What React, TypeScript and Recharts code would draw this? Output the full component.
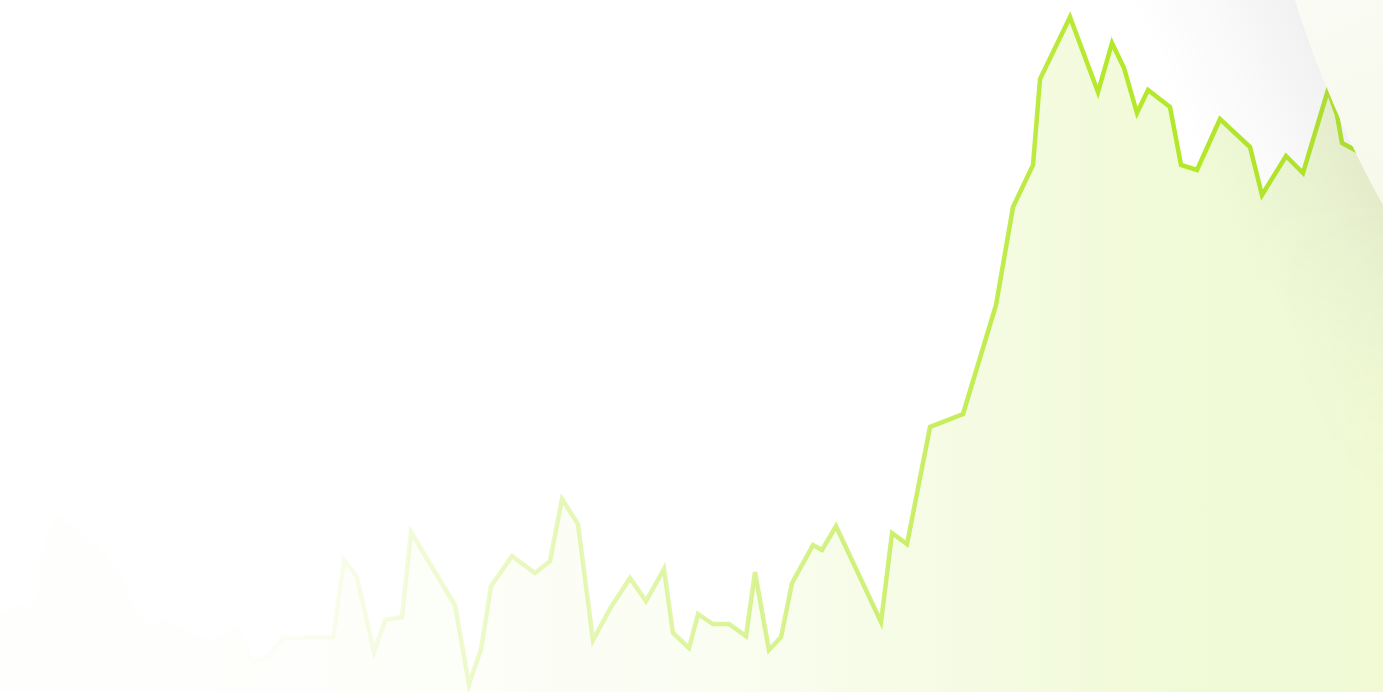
import { AreaChart, Area, XAxis, YAxis } from "recharts";

// x positions (time units) and values
const X = [
	0, 35, 45, 58, 75, 100, 120, 135, 150, 167, 180, 193, 215, 237, 252, 268,
	283, 333, 344, 357, 374, 385, 402, 411, 455, 469, 481, 491, 512, 535, 550,
	562, 578, 593, 611, 630, 646, 664, 673, 689, 698, 713, 729, 746, 755, 769,
	781, 792, 813, 822, 836, 881, 892, 907, 930, 963, 996, 1013, 1033, 1040,
	1070, 1098, 1112, 1124, 1137, 1148, 1170, 1181, 1197, 1220, 1250, 1262,
	1286, 1303, 1328, 1337, 1342, 1355, 1370, 1383,
];

const VALUES = [
	80, 92, 157, 177, 162, 144, 117, 82, 67, 72, 62, 55, 52, 65, 30, 37, 54,
	55, 132, 115, 40, 72, 75, 160, 87, 8, 43, 106, 136, 119, 131, 193, 168, 52,
	85, 114, 91, 123, 59, 44, 78, 68, 68, 56, 120, 42, 55, 109, 147, 142, 166,
	70, 159, 148, 265, 278, 387, 485, 527, 613, 675, 600, 649, 624, 579, 602,
	585, 527, 522, 573, 545, 497, 536, 519, 602, 577, 549, 542, 532, 522,
];

const data = X.map((x, i) => ({ x, value: VALUES[i] }));

const W = 1383;
const H = 692;

export default function App() {
	return (
		<div style={{ position: "relative", width: W, height: H, background: "#fff", overflow: "hidden" }}>
			<style>{"body{margin:0}"}</style>
			<AreaChart width={W} height={H} data={data} margin={{ top: 0, right: 0, bottom: 0, left: 0 }}>
				<defs>
					<linearGradient id="strokeGrad" x1="0" y1="0" x2="1" y2="0">
						<stop offset="0%" stopColor="#b4e82a" stopOpacity={0} />
						<stop offset="17%" stopColor="#b4e82a" stopOpacity={0.01} />
						<stop offset="24%" stopColor="#b4e82a" stopOpacity={0.08} />
						<stop offset="30%" stopColor="#b4e82a" stopOpacity={0.17} />
						<stop offset="36%" stopColor="#b4e82a" stopOpacity={0.26} />
						<stop offset="48%" stopColor="#b4e82a" stopOpacity={0.4} />
						<stop offset="62%" stopColor="#b4e82a" stopOpacity={0.6} />
						<stop offset="72%" stopColor="#b4e82a" stopOpacity={0.82} />
						<stop offset="80%" stopColor="#b4e82a" stopOpacity={1} />
						<stop offset="100%" stopColor="#b4e82a" stopOpacity={1} />
					</linearGradient>
					<linearGradient id="fillGrad" x1="0" y1="0" x2="1" y2="0">
						<stop offset="0%" stopColor="#e6f6b8" stopOpacity={0.03} />
						<stop offset="22%" stopColor="#e6f6b8" stopOpacity={0.05} />
						<stop offset="50%" stopColor="#e6f6b8" stopOpacity={0.18} />
						<stop offset="70%" stopColor="#e6f6b8" stopOpacity={0.4} />
						<stop offset="85%" stopColor="#e6f6b8" stopOpacity={0.55} />
						<stop offset="100%" stopColor="#e6f6b8" stopOpacity={0.6} />
					</linearGradient>
				</defs>
				<XAxis dataKey="x" type="number" domain={[0, W]} hide />
				<YAxis type="number" domain={[0, H]} hide />
				<Area
					type="linear"
					dataKey="value"
					stroke="url(#strokeGrad)"
					strokeWidth={4.5}
					fill="url(#fillGrad)"
					fillOpacity={1}
					dot={false}
					activeDot={false}
					isAnimationActive={false}
				/>
			</AreaChart>
			<svg width={W} height={H} style={{ position: "absolute", left: 0, top: 0, pointerEvents: "none" }}>
				<defs>
					<linearGradient id="shade" gradientUnits="userSpaceOnUse" x1="1338" y1="100" x2="1200" y2="160">
						<stop offset="0%" stopColor="#70727a" stopOpacity={0.1} />
						<stop offset="40%" stopColor="#70727a" stopOpacity={0.05} />
						<stop offset="100%" stopColor="#70727a" stopOpacity={0} />
					</linearGradient>
					<linearGradient id="shadeFade" gradientUnits="userSpaceOnUse" x1="0" y1="200" x2="0" y2="520">
						<stop offset="0%" stopColor="#fff" stopOpacity={1} />
						<stop offset="100%" stopColor="#fff" stopOpacity={0} />
					</linearGradient>
					<mask id="shadeMask">
						<rect x="0" y="0" width={W} height={H} fill="url(#shadeFade)" />
					</mask>
					<linearGradient id="curl" gradientUnits="userSpaceOnUse" x1="1300" y1="0" x2="1383" y2="200">
						<stop offset="0%" stopColor="#fafbf4" />
						<stop offset="100%" stopColor="#f6f9ea" />
					</linearGradient>
				</defs>
				<path
					d="M1295,0 Q1330,110 1383,205 L1383,692 L1100,692 L1100,0 Z"
					fill="url(#shade)"
					mask="url(#shadeMask)"
				/>
				<path d="M1295,0 Q1330,110 1383,205 L1383,0 Z" fill="url(#curl)" />
			</svg>
		</div>
	);
}
